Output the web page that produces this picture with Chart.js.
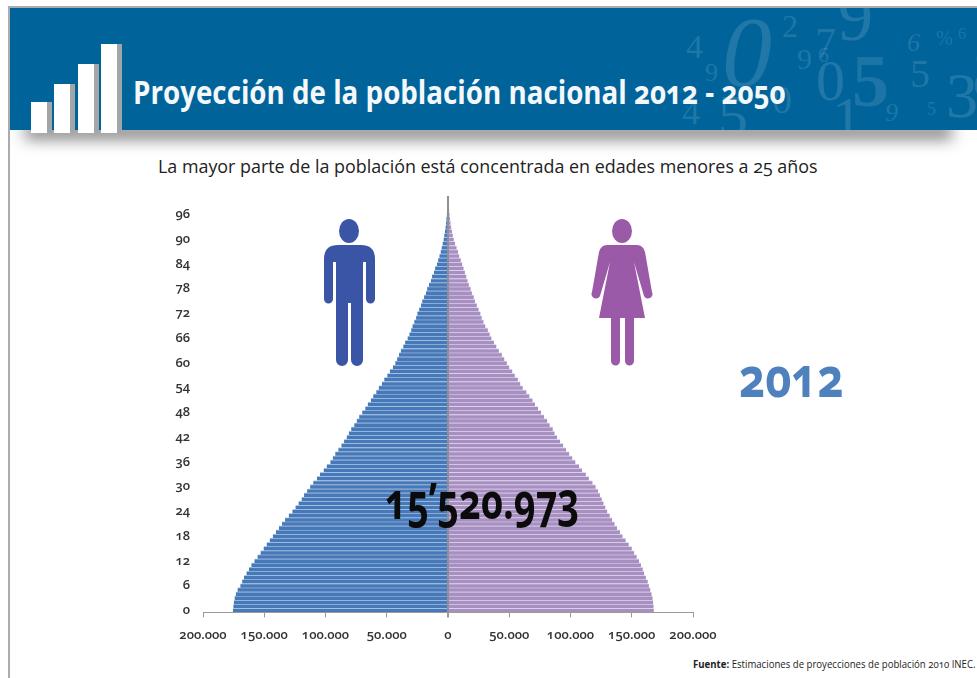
<!DOCTYPE html>
<html lang="es">
<head>
<meta charset="utf-8">
<title>Proyección de la población nacional 2012 - 2050</title>
<script src="https://cdn.jsdelivr.net/npm/chart.js@4"></script>
<style>
  html, body { margin: 0; padding: 0; background: #fff; }
  body { position: relative; width: 977px; height: 678px; overflow: hidden; font-family: "Open Sans", sans-serif; font-feature-settings: "onum"; }
  .frame-top { position: absolute; left: 8px; top: 6px; width: 969px; height: 2px; background: #a9adb0; }
  .frame-left { position: absolute; left: 8px; top: 6px; width: 2px; height: 672px; background: #a9adb0; }
  .shadow { position: absolute; left: 26px; top: 116px; width: 925px; height: 12px; box-shadow: 0 10px 15px 1px rgba(40,40,40,.62); }
  .banner { position: absolute; left: 10px; top: 8px; width: 967px; height: 122px; background: #00649b; overflow: hidden; }
  .banner span { position: absolute; font-family: "Liberation Serif", serif; color: rgba(255,255,255,.13); line-height: 1; }
  .bar { position: absolute; background: #fff; bottom: 0; box-shadow: 5px 0 0 #a3a6a8; }
  .title { position: absolute; left: 133px; top: 70px; color: #f4f8fb; font-weight: 700; font-size: 32px; line-height: 44px; white-space: nowrap; transform-origin: left center; transform: scaleX(.867); }
  .subtitle { position: absolute; left: 158px; top: 152px; color: #222; font-size: 19px; line-height: 28px; white-space: nowrap; transform-origin: left center; transform: scaleX(.941); }
  .year { position: absolute; left: 739px; top: 340px; color: #4f81bd; font-weight: 700; font-size: 56px; line-height: 70px; transform-origin: left center; transform: scaleX(.81); }
  .total { position: absolute; left: 385px; top: 465px; color: #0b0b0b; font-weight: 700; font-size: 50px; line-height: 70px; white-space: nowrap; z-index: 3; transform-origin: left center; transform: scaleX(.76); }
  .source { position: absolute; left: 693px; top: 656px; color: #222; font-size: 10px; line-height: 16px; white-space: nowrap; transform-origin: left center; transform: scaleX(.96); }
  #chartWrap { position: absolute; left: 0; top: 0; width: 977px; height: 678px; z-index: 2; }
  svg.people { position: absolute; left: 0; top: 0; z-index: 2; }
</style>
</head>
<body>
<div class="frame-top"></div>
<div class="frame-left"></div>
<div class="shadow"></div>
<div class="banner">
  <span style="left:712px;top:-6px;font-size:100px;font-style:italic">0</span>
  <span style="left:676px;top:22px;font-size:34px">4</span>
  <span style="left:772px;top:2px;font-size:32px">2</span>
  <span style="left:805px;top:14px;font-size:42px">7</span>
  <span style="left:808px;top:36px;font-size:22px">6</span>
  <span style="left:787px;top:36px;font-size:30px">9</span>
  <span style="left:695px;top:52px;font-size:26px">9</span>
  <span style="left:828px;top:-26px;font-size:70px">9</span>
  <span style="left:806px;top:44px;font-size:58px">0</span>
  <span style="left:842px;top:36px;font-size:74px;font-weight:700;opacity:.85">5</span>
  <span style="left:900px;top:46px;font-size:40px">5</span>
  <span style="left:936px;top:56px;font-size:64px">3</span>
  <span style="left:962px;top:24px;font-size:80px">8</span>
  <span style="left:897px;top:22px;font-size:26px;font-style:italic">6</span>
  <span style="left:926px;top:20px;font-size:20px">%</span>
  <span style="left:948px;top:18px;font-size:16px">6</span>
  <span style="left:762px;top:72px;font-size:40px">0</span>
  <span style="left:672px;top:86px;font-size:36px">4</span>
  <span style="left:708px;top:78px;font-size:60px">5</span>
  <span style="left:822px;top:80px;font-size:60px">1</span>
  <span style="left:875px;top:92px;font-size:26px;font-style:italic">9</span>
  <span style="left:917px;top:92px;font-size:18px">5</span>
</div>
<div class="bar" style="left:31px;top:102px;height:31px;width:16px"></div>
<div class="bar" style="left:54px;top:84px;height:49px;width:16px"></div>
<div class="bar" style="left:78px;top:64px;height:69px;width:16px"></div>
<div class="bar" style="left:101px;top:44px;height:89px;width:16px"></div>
<div class="title">Proyección de la población nacional 2012 - 2050</div>
<div class="subtitle">La mayor parte de la población está concentrada en edades menores a 25 años</div>
<div id="chartWrap"><canvas id="pyramid" width="977" height="678"></canvas></div>
<svg class="people" width="977" height="678" aria-hidden="true">
  <g fill="#3a55a5">
    <ellipse cx="349" cy="231" rx="10" ry="12" />
    <path d="M338 245H361Q375 245 375 259V299A4.5 4.5 0 0 1 366 299V262H363V360A6 6 0 0 1 351 360V303H348V360A6 6 0 0 1 336 360V262H333V299A4.5 4.5 0 0 1 324 299V259Q324 245 338 245Z" />
  </g>
  <g fill="#9b5aa7">
    <ellipse cx="622" cy="231" rx="10" ry="12" />
    <path d="M607 245H637Q643 245 645 252L652 292A4 4 0 0 1 644 296L634 262L645 318H634V361A4.5 4.5 0 0 1 625 361V318H620V361A4.5 4.5 0 0 1 611 361V318H599L610 262L600 296A4 4 0 0 1 592 292L599 252Q601 245 607 245Z" />
  </g>
</svg>
<div class="year">2012</div>
<div class="total">15’520.973</div>
<div class="source"><b>Fuente:</b> Estimaciones de proyecciones de población 2010 INEC.</div>

<script>
// single years of age, 0 to 100
const ages = Array.from({ length: 101 }, (_, i) => String(i));

const hombres = [
  175500, 175200, 174800, 174200, 173200, 171800, 169500, 168000, 166500, 164500,
  162500, 160500, 158000, 155500, 153000, 150500, 148000, 145500, 143000, 140500,
  138000, 135500, 133000, 130000, 127000, 124500, 122000, 119500, 117500, 115000,
  112500, 110000, 107000, 104500, 101500, 99000, 96000, 94000, 92000, 89500,
  87000, 84800, 82700, 81000, 79000, 76500, 74500, 72500, 70000, 67500,
  65500, 63000, 61000, 58500, 56500, 54000, 52000, 49500, 47500, 45000,
  43000, 41500, 40000, 38500, 36500, 35000, 33000, 31500, 30000, 29000,
  27500, 26000, 25000, 23500, 22000, 21000, 19500, 18000, 17000, 15500,
  14000, 13000, 11500, 10500, 9000, 8000, 7000, 6000, 5200, 4400,
  3600, 3000, 2500, 2000, 1600, 1300, 1000, 800, 600, 400, 300
];

const mujeres = [
  168000, 167800, 167500, 167000, 166200, 165200, 164000, 163000, 161500, 160000,
  159000, 157500, 156000, 154000, 152000, 150000, 147500, 145000, 142500, 140500,
  138000, 136000, 134000, 132000, 130000, 128500, 127000, 125500, 124000, 122500,
  120500, 118000, 115000, 112500, 109500, 107000, 104000, 101500, 99000, 96500,
  94000, 91500, 89000, 87000, 85500, 83000, 81000, 78500, 76000, 73500,
  71000, 69000, 66500, 64000, 61000, 59000, 57000, 54500, 52500, 50000,
  48000, 46000, 44000, 41500, 39500, 37500, 35500, 34000, 32500, 30500,
  29000, 27500, 26500, 25000, 23500, 22000, 21000, 19500, 18500, 17000,
  16000, 15000, 13800, 12700, 11600, 10400, 9200, 8200, 7000, 5800,
  4700, 3900, 3200, 2600, 2100, 1700, 1300, 1000, 800, 600, 400
];

const xTicks = [-200000, -150000, -100000, -50000, 0, 50000, 100000, 150000, 200000];

const miles = v => Math.abs(v).toString().replace(/\B(?=(\d{3})+$)/g, ".");

const config = {
  type: "bar",
  data: {
    labels: ages,
    datasets: [
      {
        label: "Hombres",
        data: hombres.map(v => -v),
        backgroundColor: "#4779b8",
        borderColor: "#aecbec",
        borderWidth: { top: 1, bottom: 0, left: 0, right: 0 },
        borderSkipped: false,
        barPercentage: 1,
        categoryPercentage: 1,
      },
      {
        label: "Mujeres",
        data: mujeres,
        backgroundColor: "#a78fc2",
        borderColor: "#e2daee",
        borderWidth: { top: 1, bottom: 0, left: 0, right: 0 },
        borderSkipped: false,
        barPercentage: 1,
        categoryPercentage: 1,
      },
    ],
  },
  options: {
    indexAxis: "y",
    responsive: false,
    animation: false,
    layout: { padding: { top: 196, right: 284, left: 0, bottom: 25 } },
    plugins: { legend: { display: false }, tooltip: { enabled: false } },
    scales: {
      x: {
        stacked: true,
        min: -200000,
        max: 200000,
        afterBuildTicks: scale => { scale.ticks = xTicks.map(value => ({ value })); },
        // border shares the grid's layer, it needs the grid computed first
        border: { color: "#9a9a9a", width: 1, z: 1 },
        grid: {
          drawOnChartArea: true,
          // only the zero line runs up through the bars
          color: ctx => (ctx.tick && ctx.tick.value === 0 ? "#8f8f99" : "rgba(0,0,0,0)"),
          lineWidth: ctx => (ctx.tick && ctx.tick.value === 0 ? 2 : 1),
          tickColor: "#9a9a9a",
          tickLength: 5,
          z: 1,
        },
        ticks: {
          autoSkip: false,
          maxRotation: 0,
          padding: 10,
          color: "#333",
          font: { family: "Open Sans", size: 13, weight: "600" },
          callback: value => miles(value),
        },
      },
      y: {
        stacked: true,
        reverse: true,
        afterFit: scale => { scale.width = 203; },
        border: { display: false },
        grid: { display: false, drawTicks: false },
        ticks: {
          autoSkip: false,
          padding: 13,
          color: "#333",
          font: { family: "Open Sans", size: 13, weight: "600" },
          callback: function (value) {
            const age = Number(this.getLabelForValue(value));
            return age % 6 === 0 && age <= 96 ? String(age) : "";
          },
        },
      },
    },
  },
};

new Chart(document.getElementById("pyramid"), config);
</script>
</body>
</html>
